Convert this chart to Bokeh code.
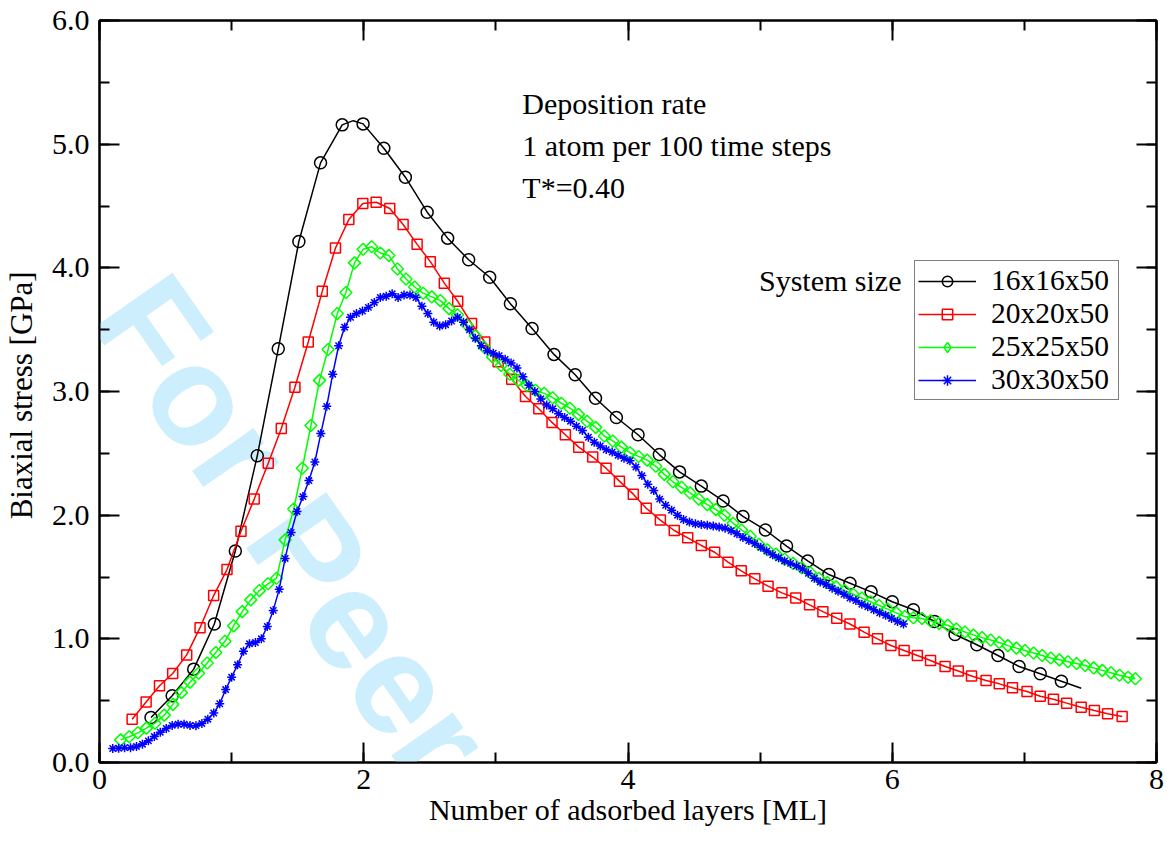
import math
from bokeh.plotting import figure
from bokeh.models import (Range1d, SingleIntervalTicker, NumeralTickFormatter, LinearAxis,
                          Label, Legend, LegendItem, ColumnDataSource, CustomLabelingPolicy)
from bokeh.embed import file_html
from bokeh.resources import INLINE

# ---------------- data ----------------
series_labels = ["16x16x50", "20x20x50", "25x25x50", "30x30x50"]

black_x = [0.39, 0.55, 0.713, 0.869, 1.028, 1.194, 1.353, 1.509, 1.673, 1.837, 1.995, 2.152,
           2.315, 2.48, 2.635, 2.794, 2.953, 3.11, 3.274, 3.44, 3.60, 3.754, 3.912, 4.076,
           4.237, 4.39, 4.555, 4.72, 4.87, 5.04, 5.20, 5.36, 5.52, 5.68, 5.84, 6.00, 6.16,
           6.32, 6.475, 6.64, 6.80, 6.96, 7.12, 7.28]
black_y = [0.364, 0.54, 0.755, 1.12, 1.71, 2.48, 3.345, 4.213, 4.849, 5.156, 5.164, 4.967,
           4.733, 4.45, 4.24, 4.065, 3.924, 3.71, 3.51, 3.30, 3.135, 2.946, 2.79, 2.65,
           2.49, 2.35, 2.235, 2.115, 1.99, 1.88, 1.75, 1.63, 1.52, 1.45, 1.38, 1.30, 1.235,
           1.14, 1.035, 0.952, 0.865, 0.776, 0.717, 0.657]
# extra line-only points of the black curve (top of the peak, end of the line)
black_extra_x = [1.92, 7.43]
black_extra_y = [5.19, 0.60]

red_x = [0.247, 0.353, 0.454, 0.554, 0.66, 0.761, 0.864, 0.965, 1.071, 1.171, 1.277, 1.376,
         1.479, 1.58, 1.686, 1.786, 1.887, 1.993, 2.094, 2.197, 2.298, 2.404, 2.504, 2.61,
         2.711, 2.816, 2.916, 3.017, 3.12, 3.224, 3.325, 3.425, 3.526, 3.627, 3.733, 3.834,
         3.935, 4.04, 4.138, 4.245, 4.35, 4.452, 4.555, 4.656, 4.757, 4.857, 4.96, 5.06,
         5.165, 5.27, 5.374, 5.475, 5.58, 5.68, 5.787, 5.888, 5.99, 6.09, 6.19, 6.29, 6.40,
         6.50, 6.60, 6.71, 6.81, 6.91, 7.02, 7.12, 7.22, 7.32, 7.43, 7.53, 7.63, 7.74]
red_y = [0.35, 0.49, 0.62, 0.72, 0.87, 1.09, 1.35, 1.56, 1.87, 2.13, 2.42, 2.70,
         3.035, 3.40, 3.81, 4.16, 4.39, 4.52, 4.53, 4.48, 4.35, 4.19, 4.05, 3.876,
         3.73, 3.55, 3.40, 3.24, 3.10, 2.96, 2.86, 2.75, 2.65, 2.55, 2.47, 2.38,
         2.275, 2.17, 2.056, 1.96, 1.876, 1.817, 1.755, 1.70, 1.62, 1.55, 1.485, 1.426,
         1.372, 1.33, 1.275, 1.22, 1.167, 1.12, 1.054, 1.00, 0.946, 0.906, 0.865, 0.825, 0.776,
         0.74, 0.70, 0.663, 0.636, 0.604, 0.574, 0.536, 0.512, 0.48, 0.447, 0.42, 0.394, 0.372]

green_x = [0.16, 0.225, 0.29, 0.355, 0.42, 0.49, 0.555, 0.62, 0.685, 0.75, 0.815, 0.88, 0.95,
           1.015, 1.08, 1.145, 1.21, 1.275, 1.34, 1.405, 1.47, 1.535, 1.60, 1.665, 1.73, 1.80,
           1.865, 1.93, 1.995, 2.06, 2.125, 2.19, 2.255, 2.32, 2.385, 2.45, 2.515, 2.58, 2.645,
           2.71, 2.78, 2.845, 2.91, 2.975, 3.04, 3.105, 3.17, 3.235, 3.30, 3.365, 3.43, 3.495,
           3.56, 3.625, 3.69, 3.755, 3.82, 3.885, 3.95, 4.015, 4.08, 4.145, 4.21, 4.275, 4.34,
           4.405, 4.47, 4.535, 4.60, 4.665, 4.73, 4.795, 4.86, 4.925, 4.99, 5.055, 5.12, 5.185,
           5.25, 5.315, 5.38, 5.445, 5.51, 5.575, 5.64, 5.705, 5.77, 5.835, 5.90, 5.965, 6.03,
           6.095, 6.16, 6.225, 6.29, 6.355, 6.42, 6.485, 6.55, 6.615, 6.68, 6.745, 6.81, 6.875,
           6.94, 7.005, 7.07, 7.135, 7.20, 7.265, 7.33, 7.395, 7.46, 7.525, 7.59, 7.655, 7.72,
           7.785, 7.84]
green_y = [0.183, 0.208, 0.24, 0.278, 0.318, 0.383, 0.47, 0.565, 0.65, 0.722, 0.805, 0.89, 0.98,
           1.105, 1.22, 1.315, 1.39, 1.445, 1.49, 1.80, 2.05, 2.38, 2.725, 3.09, 3.34, 3.63,
           3.80, 4.04, 4.15, 4.17, 4.12, 4.10, 3.99, 3.91, 3.845, 3.795, 3.765, 3.735, 3.67,
           3.62, 3.54, 3.45, 3.36, 3.28, 3.21, 3.14, 3.09, 3.05, 3.01, 2.985, 2.95, 2.905,
           2.865, 2.815, 2.76, 2.71, 2.64, 2.60, 2.55, 2.505, 2.475, 2.445, 2.395, 2.33, 2.27,
           2.225, 2.18, 2.13, 2.085, 2.045, 2.00, 1.935, 1.88, 1.83, 1.765, 1.72, 1.685, 1.645,
           1.61, 1.575, 1.535, 1.49, 1.455, 1.42, 1.39, 1.36, 1.33, 1.30, 1.27, 1.24, 1.21,
           1.18, 1.17, 1.165, 1.145, 1.125, 1.11, 1.08, 1.055, 1.03, 1.01, 0.99, 0.97, 0.945,
           0.925, 0.905, 0.885, 0.865, 0.845, 0.83, 0.815, 0.80, 0.785, 0.765, 0.745, 0.725, 0.705,
           0.69, 0.677]

blue_x = [0.10, 0.145, 0.19, 0.235, 0.28, 0.325, 0.37, 0.415, 0.46, 0.505, 0.55, 0.595, 0.64,
          0.685, 0.73, 0.775, 0.82, 0.865, 0.91, 0.955, 1.00, 1.045, 1.09, 1.135, 1.18, 1.225,
          1.27, 1.315, 1.36, 1.405, 1.45, 1.495, 1.54, 1.585, 1.63, 1.675, 1.72, 1.765, 1.81,
          1.855, 1.90, 1.945, 1.99, 2.035, 2.08, 2.125, 2.17, 2.215, 2.26, 2.305, 2.35, 2.395,
          2.44, 2.485, 2.53, 2.575, 2.62, 2.665, 2.71, 2.755, 2.80, 2.845, 2.89, 2.935, 2.98,
          3.025, 3.07, 3.115, 3.16, 3.205, 3.25, 3.295, 3.34, 3.385, 3.43, 3.475, 3.52, 3.565,
          3.61, 3.655, 3.70, 3.745, 3.79, 3.835, 3.88, 3.925, 3.97, 4.015, 4.06, 4.105, 4.15,
          4.195, 4.24, 4.285, 4.33, 4.375, 4.42, 4.465, 4.51, 4.555, 4.60, 4.645, 4.69, 4.735,
          4.78, 4.825, 4.87, 4.915, 4.96, 5.005, 5.05, 5.095, 5.14, 5.185, 5.23, 5.275, 5.32,
          5.365, 5.41, 5.455, 5.50, 5.545, 5.59, 5.635, 5.68, 5.725, 5.77, 5.815, 5.86, 5.905,
          5.95, 5.995, 6.04, 6.085]
blue_y = [0.113, 0.115, 0.12, 0.12, 0.13, 0.148, 0.175, 0.21, 0.245, 0.275, 0.30, 0.31, 0.31,
          0.30, 0.298, 0.315, 0.35, 0.40, 0.475, 0.59, 0.69, 0.79, 0.90, 0.96, 0.97, 1.00,
          1.10, 1.23, 1.40, 1.65, 1.86, 2.03, 2.15, 2.28, 2.43, 2.66, 2.88, 3.14, 3.37,
          3.52, 3.60, 3.63, 3.65, 3.68, 3.72, 3.76, 3.77, 3.79, 3.76, 3.78, 3.78, 3.76,
          3.69, 3.63, 3.56, 3.53, 3.54, 3.57, 3.60, 3.56, 3.50, 3.43, 3.37, 3.33, 3.31,
          3.29, 3.26, 3.23, 3.19, 3.12, 3.05, 3.00, 2.94, 2.89, 2.86, 2.82, 2.79, 2.76,
          2.72, 2.685, 2.63, 2.59, 2.56, 2.53, 2.51, 2.485, 2.46, 2.44, 2.39, 2.32, 2.25,
          2.20, 2.13, 2.08, 2.04, 2.00, 1.965, 1.945, 1.93, 1.925, 1.918, 1.912, 1.905, 1.895,
          1.875, 1.85, 1.82, 1.795, 1.77, 1.74, 1.71, 1.68, 1.655, 1.63, 1.61, 1.59, 1.565,
          1.53, 1.49, 1.46, 1.44, 1.41, 1.385, 1.36, 1.33, 1.31, 1.28, 1.26, 1.235, 1.21,
          1.19, 1.165, 1.14, 1.12]

annotation_lines = ["Deposition rate", "1 atom per 100 time steps", "T*=0.40"]
legend_title = "System size"
x_title = "Number of adsorbed layers [ML]"
y_title = "Biaxial stress  [GPa]"
watermark = "For Peer Review"

# ---------------- figure ----------------
SERIF = "Liberation Serif"
FS = "30px"
W, H = 1167, 843
FRAME_L, FRAME_B = 97, 762

p = figure(width=W, height=H, output_backend="svg", toolbar_location=None,
           x_range=Range1d(0, 8), y_range=Range1d(0, 6),
           min_border_left=FRAME_L, min_border_right=11, min_border_top=20,
           min_border_bottom=H - FRAME_B)
p.grid.visible = False
p.outline_line_color = "black"
p.outline_line_width = 2
p.background_fill_color = "white"
p.border_fill_color = "white"

hide_all_labels = CustomLabelingPolicy(code="""
    const n = indices.size
    for (let i = 0; i < n; i++) { indices.unset(i) }
    return indices
""")

def style_axis(ax, labels=True):
    ax.axis_line_width = 2
    ax.axis_line_color = "black"
    ax.major_tick_in = 20
    ax.major_tick_out = 0
    ax.minor_tick_in = 10
    ax.minor_tick_out = 0
    ax.major_tick_line_width = 2
    ax.minor_tick_line_width = 2
    ax.major_tick_line_color = "black"
    ax.minor_tick_line_color = "black"
    if labels:
        ax.major_label_text_font = SERIF
        ax.major_label_text_font_size = FS
        ax.major_label_text_color = "black"
        ax.axis_label_text_font = SERIF
        ax.axis_label_text_font_size = FS
        ax.axis_label_text_font_style = "normal"
        ax.axis_label_text_color = "black"
    else:
        ax.major_label_policy = hide_all_labels
        ax.major_label_standoff = 0

xa = p.xaxis[0]
xa.ticker = SingleIntervalTicker(interval=2, num_minor_ticks=2)
style_axis(xa)
xa.axis_label = x_title
xa.major_label_standoff = 7
xa.axis_label_standoff = 1

ya = p.yaxis[0]
ya.ticker = SingleIntervalTicker(interval=1, num_minor_ticks=2)
ya.formatter = NumeralTickFormatter(format="0.0")
style_axis(ya)
ya.axis_label = y_title
ya.axis_label_text_font_size = "31px"
ya.major_label_standoff = 10
ya.axis_label_standoff = 10

top = LinearAxis(ticker=SingleIntervalTicker(interval=2, num_minor_ticks=2))
style_axis(top, labels=False)
p.add_layout(top, "above")
right = LinearAxis(ticker=SingleIntervalTicker(interval=1, num_minor_ticks=2))
style_axis(right, labels=False)
p.add_layout(right, "right")

# ---------------- watermark (under the curves, clipped to the frame) ----------------
WM_ANGLE = 55.0
wm_ax, wm_ay = 125.0, 292.0           # page pixels of the start of its baseline
p.add_layout(Label(x=wm_ax - FRAME_L, y=FRAME_B - wm_ay, x_units="screen", y_units="screen",
                   text=watermark, angle=-WM_ANGLE, angle_units="deg",
                   text_font="Liberation Sans", text_font_style="bold",
                   text_font_size="142px", text_baseline="alphabetic", text_align="left",
                   text_color="#cdeefc", level="underlay"))

# ---------------- series ----------------
bl = sorted(zip(black_x + black_extra_x, black_y + black_extra_y))
black_line_src = ColumnDataSource(dict(x=[a for a, b in bl], y=[b for a, b in bl]))

r_bl = p.line("x", "y", source=black_line_src, line_color="black", line_width=1.5)
s_bl = p.scatter(black_x, black_y, marker="circle", size=12, fill_color=None,
                 line_color="black", line_width=1.5)

r_rd = p.line(red_x, red_y, line_color="#ff0000", line_width=1.5)
s_rd = p.scatter(red_x, red_y, marker="square", size=10, fill_color=None,
                 line_color="#ff0000", line_width=1.5)

r_gr = p.line(green_x, green_y, line_color="#00ff00", line_width=1.5)
s_gr = p.scatter(green_x, green_y, marker="square", size=8.5, angle=math.pi / 4,
                 fill_color=None, line_color="#00ff00", line_width=1.5)
# legend swatch of the green series: a diamond key (no data of its own)
k_gr = p.scatter(x=[float("nan")], y=[float("nan")], marker="diamond", size=16,
                 fill_color=None, line_color="#00ff00", line_width=1.5)

r_bu = p.line(blue_x, blue_y, line_color="#0000ff", line_width=1.5)
s_bu = p.scatter(blue_x, blue_y, marker="asterisk", size=9, line_color="#0000ff",
                 line_width=1.5)

legend = Legend(items=[
    LegendItem(label=series_labels[0], renderers=[r_bl, s_bl]),
    LegendItem(label=series_labels[1], renderers=[r_rd, s_rd]),
    LegendItem(label=series_labels[2], renderers=[r_gr, k_gr]),
    LegendItem(label=series_labels[3], renderers=[r_bu, s_bu]),
], location=(815, 362))
legend.label_text_font = SERIF
legend.label_text_font_size = "29.5px"
legend.label_text_color = "black"
legend.border_line_color = "black"
legend.border_line_width = 1.5
legend.background_fill_color = "white"
legend.background_fill_alpha = 1.0
legend.padding = 3
legend.spacing = 0
legend.margin = 0
legend.glyph_width = 58
legend.glyph_height = 26
legend.label_height = 26
legend.label_width = 124
legend.label_standoff = 15
p.add_layout(legend, "center")

# ---------------- annotations ----------------
for i, t in enumerate(annotation_lines):
    p.add_layout(Label(x=3.2, y=5.33 - 0.34 * i, text=t, text_font=SERIF, text_font_size=FS,
                       text_color="black", text_baseline="middle", text_align="left"))
p.add_layout(Label(x=6.07, y=3.90, text=legend_title, text_font=SERIF, text_font_size=FS,
                   text_color="black", text_baseline="middle", text_align="right"))

open("out.html", "w").write(file_html(p, INLINE))
